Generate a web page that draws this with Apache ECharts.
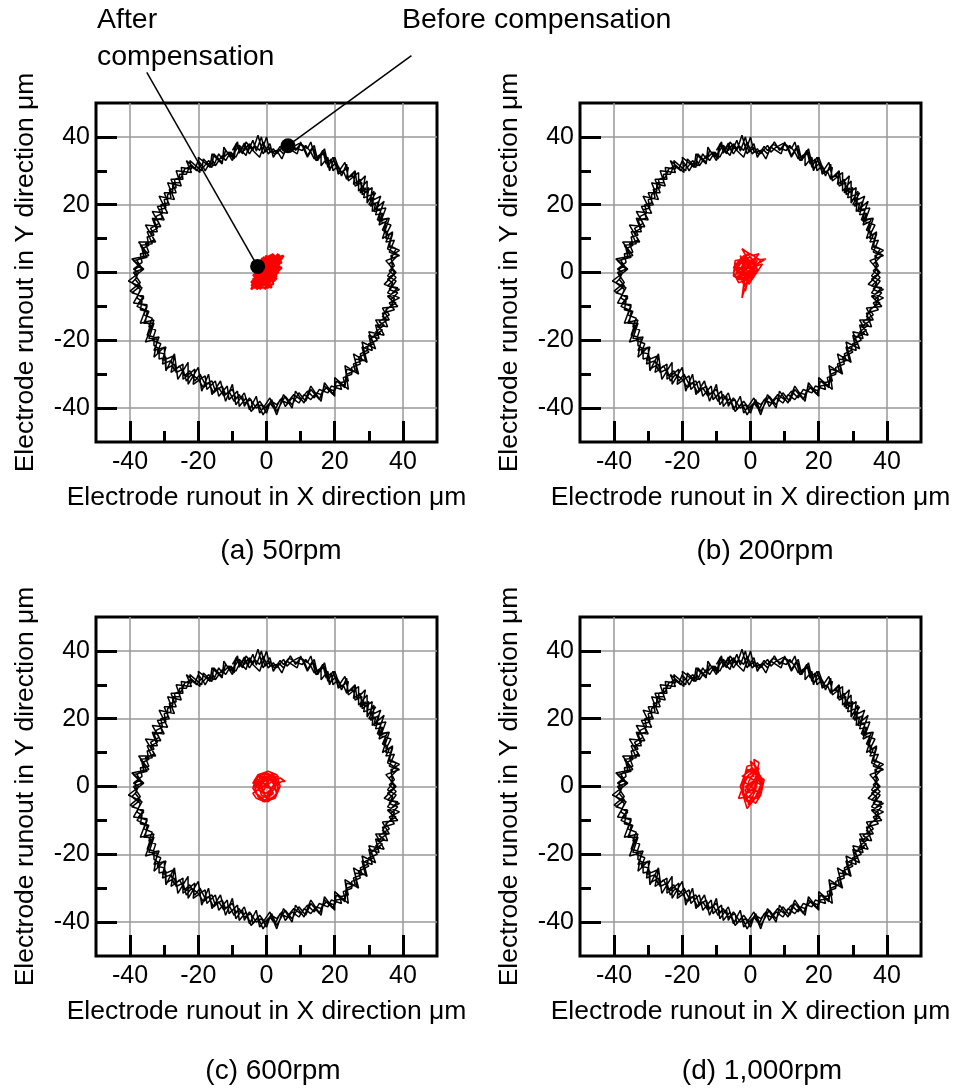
<!DOCTYPE html>
<html><head><meta charset="utf-8">
<script src="https://cdn.jsdelivr.net/npm/echarts@6/dist/echarts.min.js"></script>
<style>html,body{margin:0;padding:0;background:#fff}#c{width:958px;height:1091px}</style>
</head><body><div id="c"></div>
<script>
const majorTicks = [-40, -20, 0, 20, 40];
const minorTicks = [-30, -10, 10, 30];
const panelCaptions = ['(a) 50rpm', '(b) 200rpm', '(c) 600rpm', '(d) 1,000rpm'];
const xTitle = 'Electrode runout in X direction \u03bcm';
const yTitle = 'Electrode runout in Y direction \u03bcm';

// Runout before compensation (same spindle runout, several laps)
const beforeRing = [
[-10,36.0],[-8.5,38.5],[-8,35.2],[-6.5,38.2],[-5.5,35.5],[-4,39],[-3,35.8],[-1.5,40],[-0.5,35.5],[1,36.8],[2.5,34.8],[4,37.2],[5,36],[6.5,37.8],[8,37.2],[9.5,38],[11,37],
[12,34.5],[13.5,37],[15,33.5],[16.5,36],[17.5,32],[19,33.5],[19.5,30],[21,31.5],[22,29.5],[24,31],[23.5,28],[25.5,28.5],
[26,25.5],[28,26.5],[27.5,23.5],[30,25],[29.5,21.5],[31.5,22],[30.5,19.5],[33,21],
[32,17],[34,17.5],[33,14],[35,15],[34.5,12],[36,11],[35,9],[37.5,9.5],
[36,6],[38.5,5],[36,2.5],[37.5,0],[35.5,-2],[37,-3],[36,-5],[38.5,-6],[36.5,-8],[38,-9],
[35.5,-10.5],[34,-13],[35.5,-14],[32.5,-16],[34,-17],[31.5,-18.5],[32.5,-20],[30,-21],
[29.5,-23],[27.5,-24],[28,-26],[25.5,-27],[26,-29],[23.5,-30],[24,-32],[21.5,-32.5],[22,-34.5],
[19,-33.5],[18,-35.5],[15.5,-34.5],[14,-37],[12,-35],[10,-37.5],[8,-36],[6,-38.5],[4,-37.5],[2.5,-40.5],[1,-38.5],[0,-41.5],[-1.5,-39],
[-3,-40],[-5,-37],[-6.5,-39.5],[-7,-36.5],[-9,-37],[-10,-34.5],[-12,-36],[-13,-33.5],[-15,-35],[-16,-32],[-18,-33],[-19.5,-30],[-21,-32],
[-22.5,-29],[-24,-30.5],[-25.5,-27.5],[-27,-29],[-28,-26],[-30.5,-27],[-30,-24],[-32,-23.5],[-31,-21],
[-33.5,-20],[-32.5,-17],[-34.5,-16],[-33.5,-13.5],[-36,-12.5],[-35,-10],[-37.5,-9],[-36,-7],[-39.5,-6],[-37,-4],[-38.5,-2],[-37.5,0],[-39,1],
[-36.5,3],[-37,5.5],[-34.5,6],[-35.5,8.5],[-33,9.5],[-34,12],[-32,13],[-33,15.5],[-30.5,16],[-31.5,18.5],[-29.5,19],
[-30,21.5],[-28,22],[-28.5,24.5],[-26.5,25],[-27,27.5],[-25,28],[-24,30.5],[-22,31.5],[-20.5,30],[-19,32],
[-18,30],[-16,33.5],[-15,31.5],[-13,34.5],[-12,33],[-10.5,35.5],[-9,34],[-8,36],
[-6.5,37.5],[-5,35],[-3.5,37.5],[-2,36],[-1,38.5],[0.5,35],[2,36.5],[3,35],[5,37.5],[6,35.5],[7.5,37],[9,36.5],[10.5,36],
[11.5,37.5],[13,35.5],[14,33.5],[16,35],[16,31.5],[18,34],[18.5,30.5],[20.5,32.5],[21,29],[22.5,30],[23.5,27.5],[26,29.5],
[25.5,26],[27.5,27.5],[28,24],[29,25],[28.5,22],[32,23.5],[30,20],[32,20.5],[31.5,18],[33.5,18.5],[33,15],[35.5,16],[34,12.5],[35.5,12],[35,10],[36.5,10],[36,7.5],[38,7],[36.5,4],[37.5,2],[36,0.5],[38,-1.5],[35.5,-4],[38.5,-4.5],[36,-7],[37.5,-7.5],[36.5,-10],[35,-11],[36,-12.5],[33,-14.5],[34.5,-15.5],[32,-17.5],[33.5,-18],[30.5,-19.5],[31.5,-21],[29,-22],[30,-23.5],[27,-25],[27.5,-27],[25,-28],[25,-30],[22.5,-31],[23,-33],[20.5,-33.5],[20,-35],[17.5,-34],[16,-36],[14.5,-35.5],[13,-37.5],[11,-36],[9.5,-38.5],[7.5,-37],[5.5,-39.5],[4.5,-37],[3,-39],[1.5,-38],[-0.5,-40],[-2,-38],[-4,-40.5],[-4.5,-37.5],[-6.5,-38.5],[-8,-36],[-9.5,-38],[-11,-35],[-12.5,-36.5],[-14,-34],[-15.5,-35.5],[-17,-32.5],[-18.5,-34],[-20,-31.5],[-22,-30],[-23.5,-32],[-24.5,-28.5],[-26.5,-29.5],[-27,-27],[-29.5,-28.5],[-29.5,-25],[-31.5,-25.5],[-31.5,-22.5],[-33,-21.5],[-33,-19],[-35,-18.5],[-34,-15.5],[-35.5,-14.5],[-35,-11.5],[-37,-11],[-36.5,-8.5],[-38,-7.5],[-37,-5],[-39.5,-3],[-38,-1.5],[-38.5,1],[-37,2],[-38,3.5],[-36,5],[-36.5,7],[-34.5,8],[-35,10.5],[-33,11],[-34,13],[-31.5,14.5],[-32.5,16.5],[-30.5,17.5],[-31,20],[-29,20.5],[-29,23],[-27.5,24],[-27.5,26.5],[-25.5,26.5],[-25.5,29],[-23.5,29],[-22.5,31.5],[-21,30.5],[-20,33],[-18.5,31],[-17,33],[-15.5,31.5],[-14,35],[-13,33.5],[-11,35.5],[-10,34.5],[-8,37.5],[-6.5,36],[-5.5,37.5],
[-4,36],[-2.5,40.5],[-1,35],[1,38],[2,34],[3.5,36.5],[5,35],[7,38.5],[8.5,36],[10,38],[12,36.5],[13,38.5],[14.5,33],[17,35.5],[18,31],[19.5,34],[21,29.5],[23,32.5],[24,28],[26,30],[26.5,26],[29,28.5],[28,23],[31,25],[30.5,21],[33.5,22.5],[32,18.5],[35,19],[33.5,15],[36.5,14],[35,11],[37,11.5],[36,8],[39,6.5],[36.5,5],[37,1],[35.5,-1],[38,-2.5],[35.5,-6],[39,-7.5],[36,-9],[37.5,-11],[34,-12],[35.5,-16],[32,-15.5],[33,-19.5],[30,-18.5],[31,-23],[28,-22],[29,-26],[26,-25.5],[26.5,-29.5],[23.5,-28.5],[23,-34],[20.5,-32],[19.5,-36],[17,-33.5],[15.5,-37.5],[13,-34.5],[11.5,-38],[9.5,-35.5],[7.5,-39],[5.5,-36.5],[3,-41],[1.5,-37.5],[-1,-42],[-2.5,-38.5],[-4.5,-41],[-6,-37],[-8,-39.5],[-8.5,-35],[-11,-37.5],[-11.5,-33.5],[-14,-36.5],[-15,-32],[-17.5,-34.5],[-18,-30.5],[-21.5,-33],[-21,-28.5],[-24.5,-31.5],[-24.5,-27],[-28,-29.5],[-27,-24.5],[-30.5,-26],[-29.5,-22],[-33,-23],[-31.5,-19],[-34.5,-19.5],[-33,-15],[-36,-15],[-34.5,-11.5],[-38,-10],[-36,-7.5],[-40,-5.5],[-37,-3],[-39,0],[-36.5,1],[-39,3.5],[-35,4.5],[-37,8],[-33.5,8.5],[-35,12],[-32,12],[-33.5,16],[-30,15.5],[-32,19.5],[-28.5,20],[-30,23.5],[-26.5,23.5],[-28,27.5],[-24.5,27.5],[-25,31],[-22,30.5],[-22.5,33],[-19,30],[-18.5,33.5],[-16,31],[-15.5,35],[-13,32.5],[-12,36],[-9.5,33.5],[-9,37.5],[-7,35],[-6,38.5],[-4,36],
[-2,34],[0,40],[1,35.5],[3,36],[4.5,33.5],[6,37],[9,35],[10,38.5],[12,34],[14,37.5],[15,33],[17,36.5],[18.5,30],[20,34],[22,28.5],[23.5,32],[24,27],[27,29.5],[27,24],[29.5,27],[29.5,20.5],[31.5,24],[31,18],[34.5,21],[32.5,15.5],[36,16],[34,10],[37,12],[35.5,7],[39,5],[35,3.5],[38,0],[34.5,-3.5],[39,-5],[35.5,-7],[38.5,-10],[34,-10.5],[36,-14],[32,-14],[34.5,-18.5],[30,-17.5],[32,-22.5],[28,-20.5],[29.5,-26.5],[25.5,-24],[27,-30],[23,-27.5],[24,-34.5],[20,-31],[20,-36.5],[17,-32.5],[16,-38],[13,-33.5],[11,-38.5],[8.5,-35],[7.5,-40],[5,-36],[3,-42],[1,-37],[-2,-41.5],[-3,-36.5],[-5,-40.5],[-6.5,-35.5],[-9,-39],[-10,-33],[-12,-38],[-13.5,-32],[-16,-36],[-17,-30],[-19,-35],[-20,-28],[-23,-33],[-23,-26.5],[-26,-31.5],[-27,-24],[-29.5,-29],[-30,-22],[-33,-25],[-32,-19.5],[-35.5,-20.5],[-33,-14],[-37,-15],[-35,-9.5],[-39,-9],[-36.5,-4.5],[-40.5,-2.5],[-36,1],[-39.5,4],[-34.5,5],[-37.5,9],[-32.5,9],[-35.5,14],[-31,13.5],[-33.5,18],[-29,17.5],[-31.5,22.5],[-27,21.5],[-29,26.5],[-25,25.5],[-26.5,30],[-22,29.5],[-23.5,33],[-19.5,29.5],[-20,34],[-16.5,31],[-16,35],[-13,32],[-12.5,37],[-10,33],[-9,38],[-6,34.5],[-5,38],[-4,36.5]
];

// Runout after compensation, one per spindle speed
const afterA = [
[-4.5,-4],[3,4.5],[-3.5,0],[2.5,-2.5],[-1,4.5],[4.5,3],[-4,-2],[1,-4],[-2,2.5],[5,5],[0,-3],[-3,-5],[3.5,1],[-1.5,3.5],[2,5.5],[-4.5,-3],[1.5,-2],[-0.5,4],[4,4.5],[-2.5,-4.5],[3,-1],[-3.5,1.5],[1,5],[-1,-4],[4.5,1.5],[-2,0],[2,3],[-4,-4.5],[0.5,-4.5],[3.5,5.5],[-3,-1.5],[2.5,0],[-1,2],[1.5,4],[-2.5,-3],[4,2],[-0.5,-2],[-3.5,-3.5],[2,-3.5],[0.5,3],[-2,-5],[3,3],[-4,0.5],[1,1],[-1.5,-2.5],[2.5,4.5],[0,-1],[-3,3],[4.5,4],[-1.5,1],[1,-3],[3,1.5],[-4.5,-5],[0,5],[2,-1],[-2,-1.5],[3.5,3.5],[-0.5,0.5],[1.5,-4.5],[-3,-2.5],[2,2],[-1,3],[4,5],[-2.5,1],[0.5,-2.5],[2.5,1.5],[-3.5,-4.5],[1,4],[-1,-1],[3,-2],[0,2],[-2,-3.5],[4,3],[-0.5,-5],[1.5,0.5],[-4,-1],[2.5,5],[-1.5,4],[0.5,0],[3,2.5],[-2.5,-2],[1,-1.5],[-1,1.5],[2,4],[-3,-4],[3.5,0],[0,3.5],[-2,-0.5],[1.5,2.5],[-4,-3.5],[2.5,-1.5],[0,1]
];
const afterB = [
[-2,1],[1,3.5],[-4,2.5],[-3,-2],[0.5,-1],[1.5,2],[-2,5],[-5,0],[-3.5,-3],[-0.5,-2],[2,1],[0,4.5],[-3,4],[-5,1.5],[-2.5,-1],[0,0],[1.5,3],[-1,5.5],[-4,1],[-2,-3.5],[-2.5,-7.5],[-1,-2.5],[0.5,1.5],[4.5,4],[-0.5,3.5],[-3.5,3],[-4.5,-1.5],[-2,0],[1,-0.5],[0,2.5],[-2.5,7],[0.5,5],[2.5,5.5],[-0.5,1.5],[-4,-0.5],[-3,1.5],[-1,-1],[1.5,0],[-1.5,4],[-4.5,3.5],[-5,-1],[-2.5,-2],[0,-1.5],[2,2.5],[-1,3],[-3.5,0.5],[-2,2.5],[0.5,3],[-3,-1],[-0.5,0.5],[1,1.5],[-1.5,-4.5],[-2,-1.5],[3,3.5],[0,5.5],[-2.5,4.5],[-4,0],[-1.5,2],[-5,0.5],[-3,3],[0,1],[2,3.5],[-2,-2.5],[-4.5,1.5],[-1,4],[1,-1.5],[-3.5,-1.5],[0.5,4],[-1.5,-5.5],[-0.5,-1],[2,0],[-2.5,3.5],[-4.5,2.5],[-3,0],[1.5,4.5],[-1,2],[-4,-2],[0,-2.5],[1,2],[-1.5,5],[-2.5,0.5],[3.5,2.5],[-0.5,-3.5],[-3,5],[-1,0.5]
];
const afterC = [
[0,0],[2.5,2.5],[-2.5,3],[-3.5,0],[-2.5,-3],[0.5,-4.5],[3,-2],[3.5,1],[1,3.5],[-2,3.5],[-3.5,2],[-3,-2],[-0.5,-4],[2.5,-3],[3.5,-0.5],[2.5,3],[0,4],[-3,2.5],[-4,-0.5],[-2,-3.5],[1,-2.5],[3,0.5],[1.5,2],[-1,1.5],[-2.5,-1],[0,-2],[2,0],[4.5,1.5],[5.5,1.5],[4,2.5],[2,1.5],[-0.5,2.5],[-2.5,0.5],[-1.5,-2.5],[1,-4],[3,-2.5],[2.5,0],[0.5,3],[-2,2.5],[-3.5,-1.5],[-1,-4.5],[2,-2],[0.5,0.5],[-2,-0.5],[-0.5,2],[2,3.5],[3,2],[0,-3],[-3,0],[-1,4],[1,-0.5],[-4,1],[-2.5,3.5],[0.5,4.5],[3,3.5],[4,0],[2.5,-3.5],[-0.5,-4.5],[-3,-3.5],[-4,-2],[-1,0],[1.5,2.5],[2.5,-1],[-2,1.5],[0,-3.5],[3.5,3],[-3,2],[-1,-1.5],[2,4],[-3.5,0.5],[0,1]
];
const afterD = [
[0.5,0],[2,4],[-1,5],[-2.5,1],[-2,-3],[0,-5],[2.5,-2],[3.5,1.5],[1.5,6],[0,7.5],[1,3],[-1.5,2.5],[-2.5,-1.5],[-1,-6.5],[1,-4],[3,-1],[3,3],[0.5,5.5],[-1.5,4],[-3,0],[-1.5,-4],[0.5,-2],[2,1],[1,8],[2.5,7],[2,5],[-0.5,3.5],[-2,0.5],[-3.5,-3.5],[-0.5,-3],[2,-3.5],[3.5,0],[2,2.5],[0,1],[-1.5,-1],[-0.5,-5.5],[1.5,-1],[2.5,4],[1,6.5],[-1,6],[-2,2],[-2,-2],[0,-3.5],[1.5,-5],[3,-2.5],[4,2],[1,4],[-0.5,1.5],[-1,-2],[1,-0.5],[2,3],[0.5,5],
[-2.5,3],[0,2.5],[3,0.5],[1.5,-3],[-1,-4.5],[-2.5,-0.5],[-1,3],[2.5,5.5],[1,1.5],[-0.5,-1],[2,-1.5],[-2,1.5],[0.5,4.5],[3,2],[-1.5,0],[0,-2]
];
const afterSets = [afterA, afterB, afterC, afterD];

// Annotation markers and leader lines (panel a)
const afterMarker = [[-2.6, 1.8]];
const beforeMarker = [[6.3, 37.4]];
const afterLeader = [[-35.1, 59.0], [-2.6, 1.8]];
const beforeLeader = [[42.5, 64.0], [6.3, 37.4]];

const FONT = '"Liberation Sans", Arial, Helvetica, sans-serif';
const gridPos = [[96,103],[580,103],[96,617],[580,617]];
const captionPos = [[281,551],[765,551],[273,1071],[762,1071]];

const grid = gridPos.map(p => ({
  left: p[0], top: p[1], width: 341, height: 339,
  show: true, borderColor: '#000', borderWidth: 3, backgroundColor: 'transparent'
}));

const xAxis = [], yAxis = [], series = [];
gridPos.forEach((p, i) => {
  xAxis.push({
    type: 'value', gridIndex: i, position: 'bottom', min: -50, max: 50, interval: 10,
    axisLine: { show: false, onZero: false },
    axisTick: { show: true, inside: true, length: 21, lineStyle: { color: '#000', width: 3 }, customValues: majorTicks },
    axisLabel: { show: true, customValues: majorTicks, margin: 8, fontSize: 25, color: '#000', fontFamily: FONT },
    splitLine: { show: true, lineStyle: { color: '#999', width: 1.5 } },
    name: xTitle, nameLocation: 'middle', nameGap: 42,
    nameTextStyle: { fontSize: 26.5, color: '#000', fontFamily: FONT }
  });
  xAxis.push({
    type: 'value', gridIndex: i, position: 'bottom', min: -50, max: 50, interval: 10,
    axisLine: { show: false, onZero: false },
    axisTick: { show: true, inside: true, length: 11, lineStyle: { color: '#000', width: 3 }, customValues: minorTicks },
    axisLabel: { show: false }, splitLine: { show: false }
  });
  yAxis.push({
    type: 'value', gridIndex: i, position: 'left', min: -50, max: 50, interval: 10,
    axisLine: { show: false, onZero: false },
    axisTick: { show: true, inside: true, length: 21, lineStyle: { color: '#000', width: 3 }, customValues: majorTicks },
    axisLabel: { show: true, customValues: majorTicks, margin: 6, fontSize: 25, color: '#000', fontFamily: FONT },
    splitLine: { show: true, lineStyle: { color: '#999', width: 1.5 } },
    name: yTitle, nameLocation: 'middle', nameGap: 57,
    nameTextStyle: { fontSize: 26.5, color: '#000', fontFamily: FONT }
  });
  yAxis.push({
    type: 'value', gridIndex: i, position: 'left', min: -50, max: 50, interval: 10,
    axisLine: { show: false, onZero: false },
    axisTick: { show: true, inside: true, length: 11, lineStyle: { color: '#000', width: 3 }, customValues: minorTicks },
    axisLabel: { show: false }, splitLine: { show: false }
  });
  series.push({
    type: 'line', xAxisIndex: 2*i, yAxisIndex: 2*i, data: beforeRing,
    symbol: 'none', lineStyle: { color: '#000', width: 1.5 }, z: 2, silent: true
  });
  series.push({
    type: 'line', xAxisIndex: 2*i, yAxisIndex: 2*i, data: afterSets[i],
    symbol: 'none', lineStyle: { color: '#ff0000', width: i === 0 ? 2.2 : 1.6 }, z: 3, silent: true
  });
});

series.push({ type: 'line', xAxisIndex: 0, yAxisIndex: 0, data: afterLeader, clip: false,
  symbol: 'none', lineStyle: { color: '#000', width: 1.5 }, z: 5, silent: true });
series.push({ type: 'line', xAxisIndex: 0, yAxisIndex: 0, data: beforeLeader, clip: false,
  symbol: 'none', lineStyle: { color: '#000', width: 1.5 }, z: 5, silent: true });
series.push({ type: 'scatter', xAxisIndex: 0, yAxisIndex: 0, data: afterMarker.concat(beforeMarker),
  symbol: 'circle', symbolSize: 15, itemStyle: { color: '#000', opacity: 1 }, z: 6, silent: true });

const textEl = (txt, x, y, size, align) => ({
  type: 'text', x: x, y: y, silent: true,
  style: { text: txt, fontSize: size, fontFamily: FONT, fill: '#000',
    align: align, textAlign: align, verticalAlign: 'middle', textVerticalAlign: 'middle' }
});
const graphic = panelCaptions.map((c, i) => textEl(c, captionPos[i][0], captionPos[i][1], 28, 'center'));
graphic.push(textEl('After', 97, 20, 28.5, 'left'));
graphic.push(textEl('compensation', 97, 57, 28.5, 'left'));
graphic.push(textEl('Before compensation', 402, 20, 28.5, 'left'));

const chart = echarts.init(document.getElementById('c'), null, { renderer: 'canvas' });
chart.setOption({
  animation: false,
  backgroundColor: '#fff',
  grid, xAxis, yAxis, series, graphic
});
</script>
</body></html>
